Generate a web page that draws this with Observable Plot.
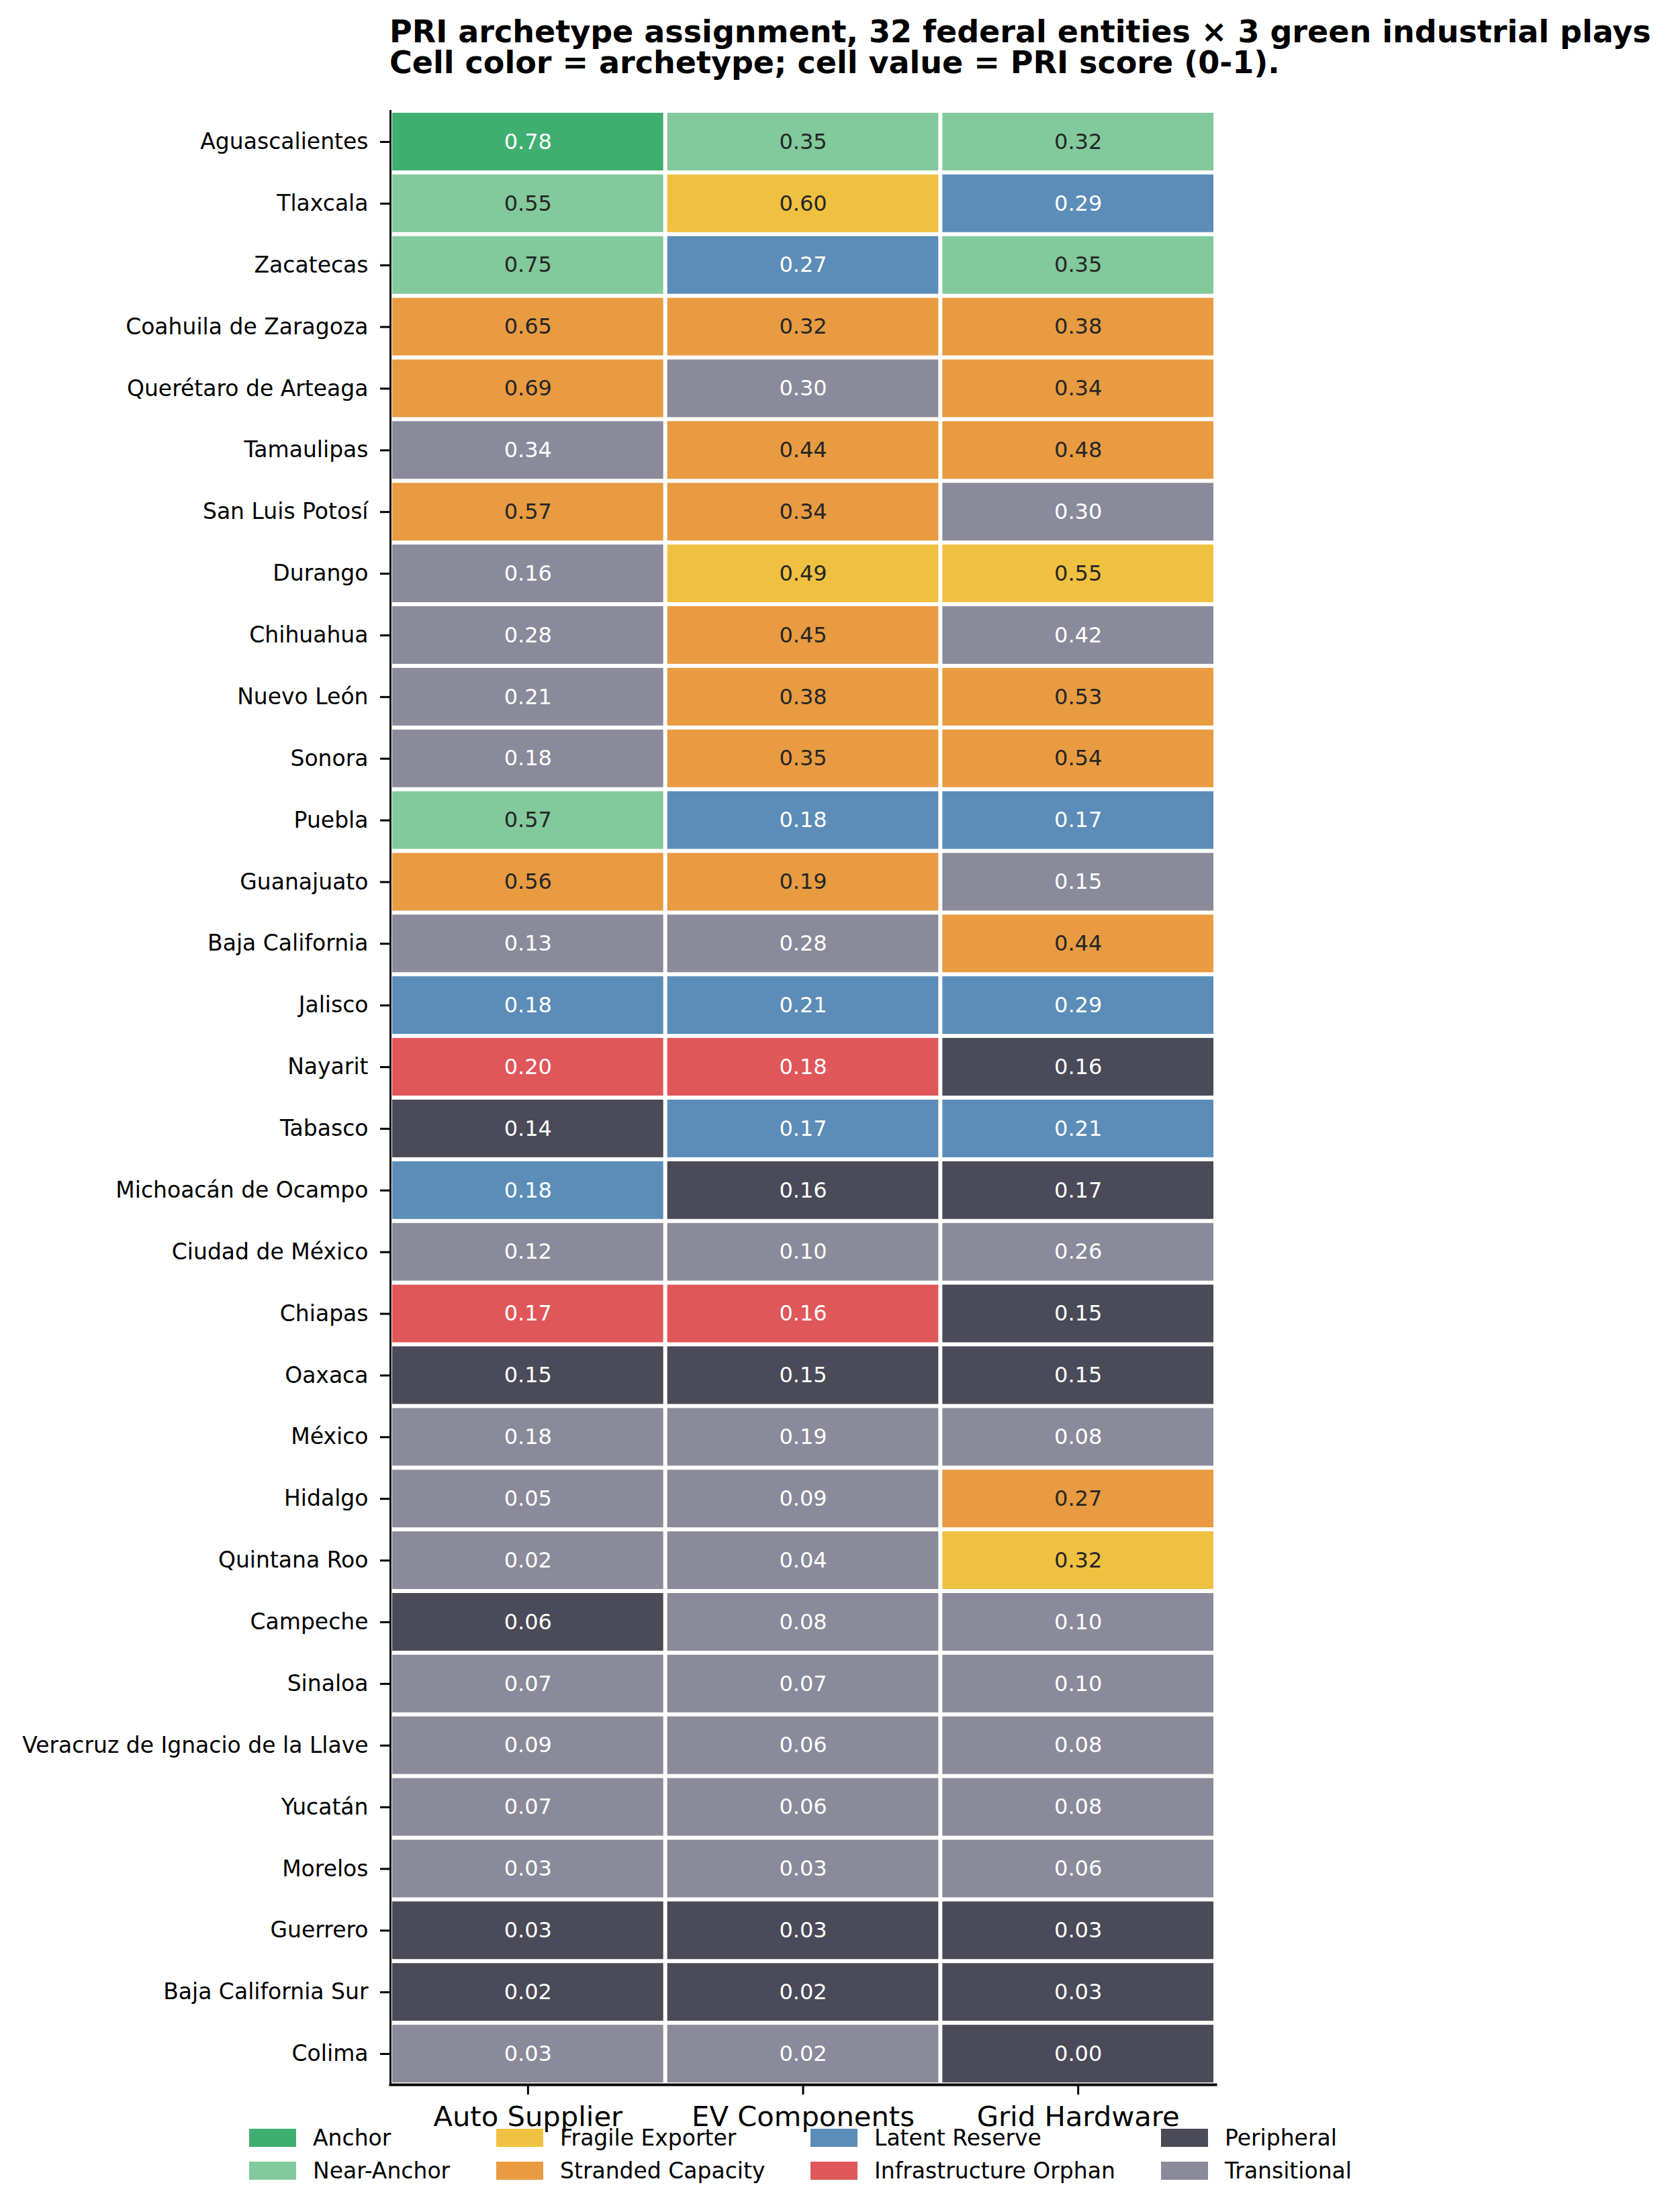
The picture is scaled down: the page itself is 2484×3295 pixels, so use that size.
<!DOCTYPE html>
<html>
<head>
<meta charset="utf-8">
<script src="https://cdn.jsdelivr.net/npm/d3@7"></script>
<script src="https://cdn.jsdelivr.net/npm/@observablehq/plot@0.6"></script>
<style>
  body { margin: 0; background: #fff; font-family: "DejaVu Sans", sans-serif; color: #000; }
  #title { box-sizing: border-box; height: 130px; padding: 24px 0 0 580px; font-weight: bold;
           font-size: 46px; line-height: 46px; white-space: nowrap; }
  #chart svg { display: block; }
  #legend { position: relative; height: 135px; }
  .item { position: absolute; display: flex; align-items: center; height: 27px;
          font-size: 33px; line-height: 27px; white-space: nowrap; }
  .sw { width: 70px; height: 27px; margin-right: 25px; flex: none; }
</style>
</head>
<body>
<div id="title">PRI archetype assignment, 32 federal entities × 3 green industrial plays<br>Cell color = archetype; cell value = PRI score (0-1).</div>
<div id="chart"></div>
<div id="legend"></div>
<script>
const states = [
  "Aguascalientes", "Tlaxcala", "Zacatecas", "Coahuila de Zaragoza", "Querétaro de Arteaga",
  "Tamaulipas", "San Luis Potosí", "Durango", "Chihuahua", "Nuevo León", "Sonora", "Puebla",
  "Guanajuato", "Baja California", "Jalisco", "Nayarit", "Tabasco", "Michoacán de Ocampo",
  "Ciudad de México", "Chiapas", "Oaxaca", "México", "Hidalgo", "Quintana Roo", "Campeche",
  "Sinaloa", "Veracruz de Ignacio de la Llave", "Yucatán", "Morelos", "Guerrero",
  "Baja California Sur", "Colima"
];
const plays = ["Auto Supplier", "EV Components", "Grid Hardware"];

const archetypes = ["Anchor", "Near-Anchor", "Fragile Exporter", "Stranded Capacity",
  "Latent Reserve", "Infrastructure Orphan", "Peripheral", "Transitional"];
const archetypeColors = ["#3FAF6F", "#82C99B", "#F0C040", "#E89B40",
  "#5B8DB8", "#E05759", "#4A4A58", "#8A8A9A"];
const darkTextArchetypes = ["Near-Anchor", "Fragile Exporter", "Stranded Capacity"];

// PRI scores per play (rows in the order of `states`)
const autoScore = [0.78, 0.55, 0.75, 0.65, 0.69, 0.34, 0.57, 0.16, 0.28, 0.21, 0.18, 0.57,
  0.56, 0.13, 0.18, 0.20, 0.14, 0.18, 0.12, 0.17, 0.15, 0.18, 0.05, 0.02, 0.06,
  0.07, 0.09, 0.07, 0.03, 0.03, 0.02, 0.03];
const evScore = [0.35, 0.60, 0.27, 0.32, 0.30, 0.44, 0.34, 0.49, 0.45, 0.38, 0.35, 0.18,
  0.19, 0.28, 0.21, 0.18, 0.17, 0.16, 0.10, 0.16, 0.15, 0.19, 0.09, 0.04, 0.08,
  0.07, 0.06, 0.06, 0.03, 0.03, 0.02, 0.02];
const gridScore = [0.32, 0.29, 0.35, 0.38, 0.34, 0.48, 0.30, 0.55, 0.42, 0.53, 0.54, 0.17,
  0.15, 0.44, 0.29, 0.16, 0.21, 0.17, 0.26, 0.15, 0.15, 0.08, 0.27, 0.32, 0.10,
  0.10, 0.08, 0.08, 0.06, 0.03, 0.03, 0.00];

// Archetype codes: A Anchor, N Near-Anchor, F Fragile Exporter, S Stranded Capacity,
// L Latent Reserve, O Infrastructure Orphan, P Peripheral, T Transitional
const autoType = ["A","N","N","S","S","T","S","T","T","T","T","N",
  "S","T","L","O","P","L","T","O","P","T","T","T","P",
  "T","T","T","T","P","P","T"];
const evType = ["N","F","L","S","T","S","S","F","S","S","S","L",
  "S","T","L","O","L","P","T","O","P","T","T","T","T",
  "T","T","T","T","P","P","T"];
const gridType = ["N","L","N","S","S","S","T","F","T","S","S","L",
  "T","S","L","P","L","P","T","P","P","T","S","F","T",
  "T","T","T","T","P","P","P"];

const codeToArchetype = {A: "Anchor", N: "Near-Anchor", F: "Fragile Exporter", S: "Stranded Capacity",
  L: "Latent Reserve", O: "Infrastructure Orphan", P: "Peripheral", T: "Transitional"};

const scores = [autoScore, evScore, gridScore];
const types = [autoType, evType, gridType];
const data = [];
states.forEach((s, i) => {
  plays.forEach((p, j) => {
    data.push({state: s, play: p, value: scores[j][i], type: codeToArchetype[types[j][i]]});
  });
});
const dark = data.filter(d => darkTextArchetypes.includes(d.type));
const light = data.filter(d => !darkTextArchetypes.includes(d.type));

const plot = Plot.plot({
  width: 2484,
  height: 3030,
  marginTop: 35,
  marginBottom: 55,
  marginLeft: 581,
  marginRight: 674,
  style: {fontFamily: "DejaVu Sans", background: "transparent", overflow: "visible", color: "#000"},
  x: {domain: plays, padding: 0, round: false, label: null},
  y: {domain: states, padding: 0, round: false, label: null},
  color: {domain: archetypes, range: archetypeColors},
  marks: [
    Plot.cell(data, {x: "play", y: "state", fill: "type", inset: 3}),
    Plot.text(light, {x: "play", y: "state", text: d => d.value.toFixed(2), fill: "white", fontSize: 32}),
    Plot.text(dark, {x: "play", y: "state", text: d => d.value.toFixed(2), fill: "#262626", fontSize: 32}),
    Plot.axisX({tickSize: 15, tickPadding: 17, fontSize: 41.7, strokeWidth: 3, label: null}),
    Plot.axisY({tickSize: 15, tickPadding: 18, fontSize: 33, strokeWidth: 3, label: null}),
    Plot.frame({anchor: "left", strokeWidth: 3}),
    Plot.frame({anchor: "bottom", strokeWidth: 4})
  ]
});
document.getElementById("chart").appendChild(plot);

// Legend (4 columns, 2 rows, column-major like the reference)
const legend = document.getElementById("legend");
const colX = [371, 739, 1207, 1729];
const rowY = [11, 60];
archetypes.forEach((a, k) => {
  const col = Math.floor(k / 2), row = k % 2;
  const item = document.createElement("div");
  item.className = "item";
  item.style.left = colX[col] + "px";
  item.style.top = rowY[row] + "px";
  const sw = document.createElement("div");
  sw.className = "sw";
  sw.style.background = archetypeColors[k];
  const label = document.createElement("span");
  label.textContent = a;
  item.appendChild(sw);
  item.appendChild(label);
  legend.appendChild(item);
});
</script>
</body>
</html>
